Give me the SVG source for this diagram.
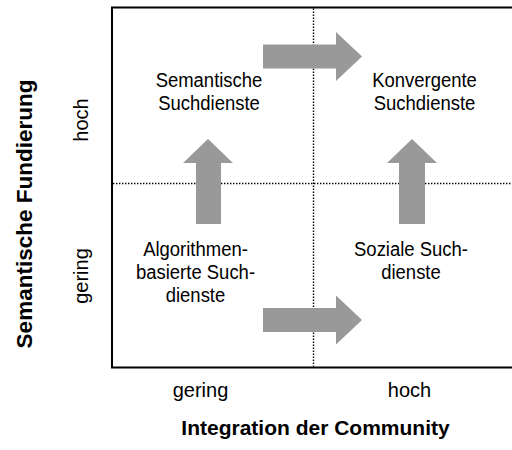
<svg xmlns="http://www.w3.org/2000/svg" width="512" height="450" viewBox="0 0 512 450">
  <style>
    text { font-family: "Liberation Sans", Arial, sans-serif; fill: #000; }
    .node { font-size: 21px; text-anchor: middle; }
    .tick { font-size: 20px; text-anchor: middle; }
    .title { font-size: 21px; font-weight: bold; text-anchor: middle; }
    .title-y { font-size: 22.5px; }
    .grid { stroke: #000; stroke-width: 1.4; stroke-dasharray: 1.4 1.6; fill: none; }
    .frame { stroke: #000; stroke-width: 2; fill: #fff; }
    .arrow { fill: #999; stroke: none; }
  </style>

  <!-- portfolio frame (right edge runs off the canvas) -->
  <rect class="frame" x="112" y="7.5" width="420" height="360"/>

  <!-- quadrant dividers -->
  <line class="grid" x1="313.5" y1="8.5" x2="313.5" y2="366.5"/>
  <line class="grid" x1="113" y1="183.5" x2="512" y2="183.5"/>

  <!-- development arrows between quadrants -->
  <g id="connectors">
    <polygon class="arrow" points="263,44.5 336,44.5 336,32 362,56.5 336,81 336,68.5 263,68.5"/>
    <polygon class="arrow" points="263,308 336,308 336,295.5 362,320 336,344.5 336,332 263,332"/>
    <polygon class="arrow" points="196,224 196,163 183,163 208,139 233,163 221,163 221,224"/>
    <polygon class="arrow" points="399,224 399,163 387,163 412,139 437,163 425,163 425,224"/>
  </g>

  <!-- quadrant nodes -->
  <g id="semantische-suchdienste" transform="translate(209 0)">
    <text class="node" transform="scale(0.88 1)"><tspan x="0" y="87">Semantische</tspan><tspan x="0" y="110">Suchdienste</tspan></text>
  </g>
  <g id="konvergente-suchdienste" transform="translate(424.5 0)">
    <text class="node" transform="scale(0.88 1)"><tspan x="0" y="87">Konvergente</tspan><tspan x="0" y="110">Suchdienste</tspan></text>
  </g>
  <g id="algorithmenbasierte-suchdienste" transform="translate(195.5 0)">
    <text class="node" transform="scale(0.88 1)"><tspan x="0" y="256">Algorithmen-</tspan><tspan x="0" y="279">basierte Such-</tspan><tspan x="0" y="302">dienste</tspan></text>
  </g>
  <g id="soziale-suchdienste" transform="translate(411 0)">
    <text class="node" transform="scale(0.88 1)"><tspan x="0" y="256">Soziale Such-</tspan><tspan x="0" y="279">dienste</tspan></text>
  </g>

  <!-- axis scale labels -->
  <g id="axis-x">
    <text class="tick" x="200.5" y="397">gering</text>
    <text class="tick" x="409.5" y="397">hoch</text>
    <text class="title" x="315.5" y="435">Integration der Community</text>
  </g>
  <g id="axis-y">
    <text class="tick" transform="translate(87.5 120) rotate(-90)" x="0" y="0">hoch</text>
    <text class="tick" transform="translate(87.5 276) rotate(-90)" x="0" y="0">gering</text>
    <text class="title title-y" transform="translate(31.5 214) rotate(-90)" x="0" y="0">Semantische Fundierung</text>
  </g>
</svg>
